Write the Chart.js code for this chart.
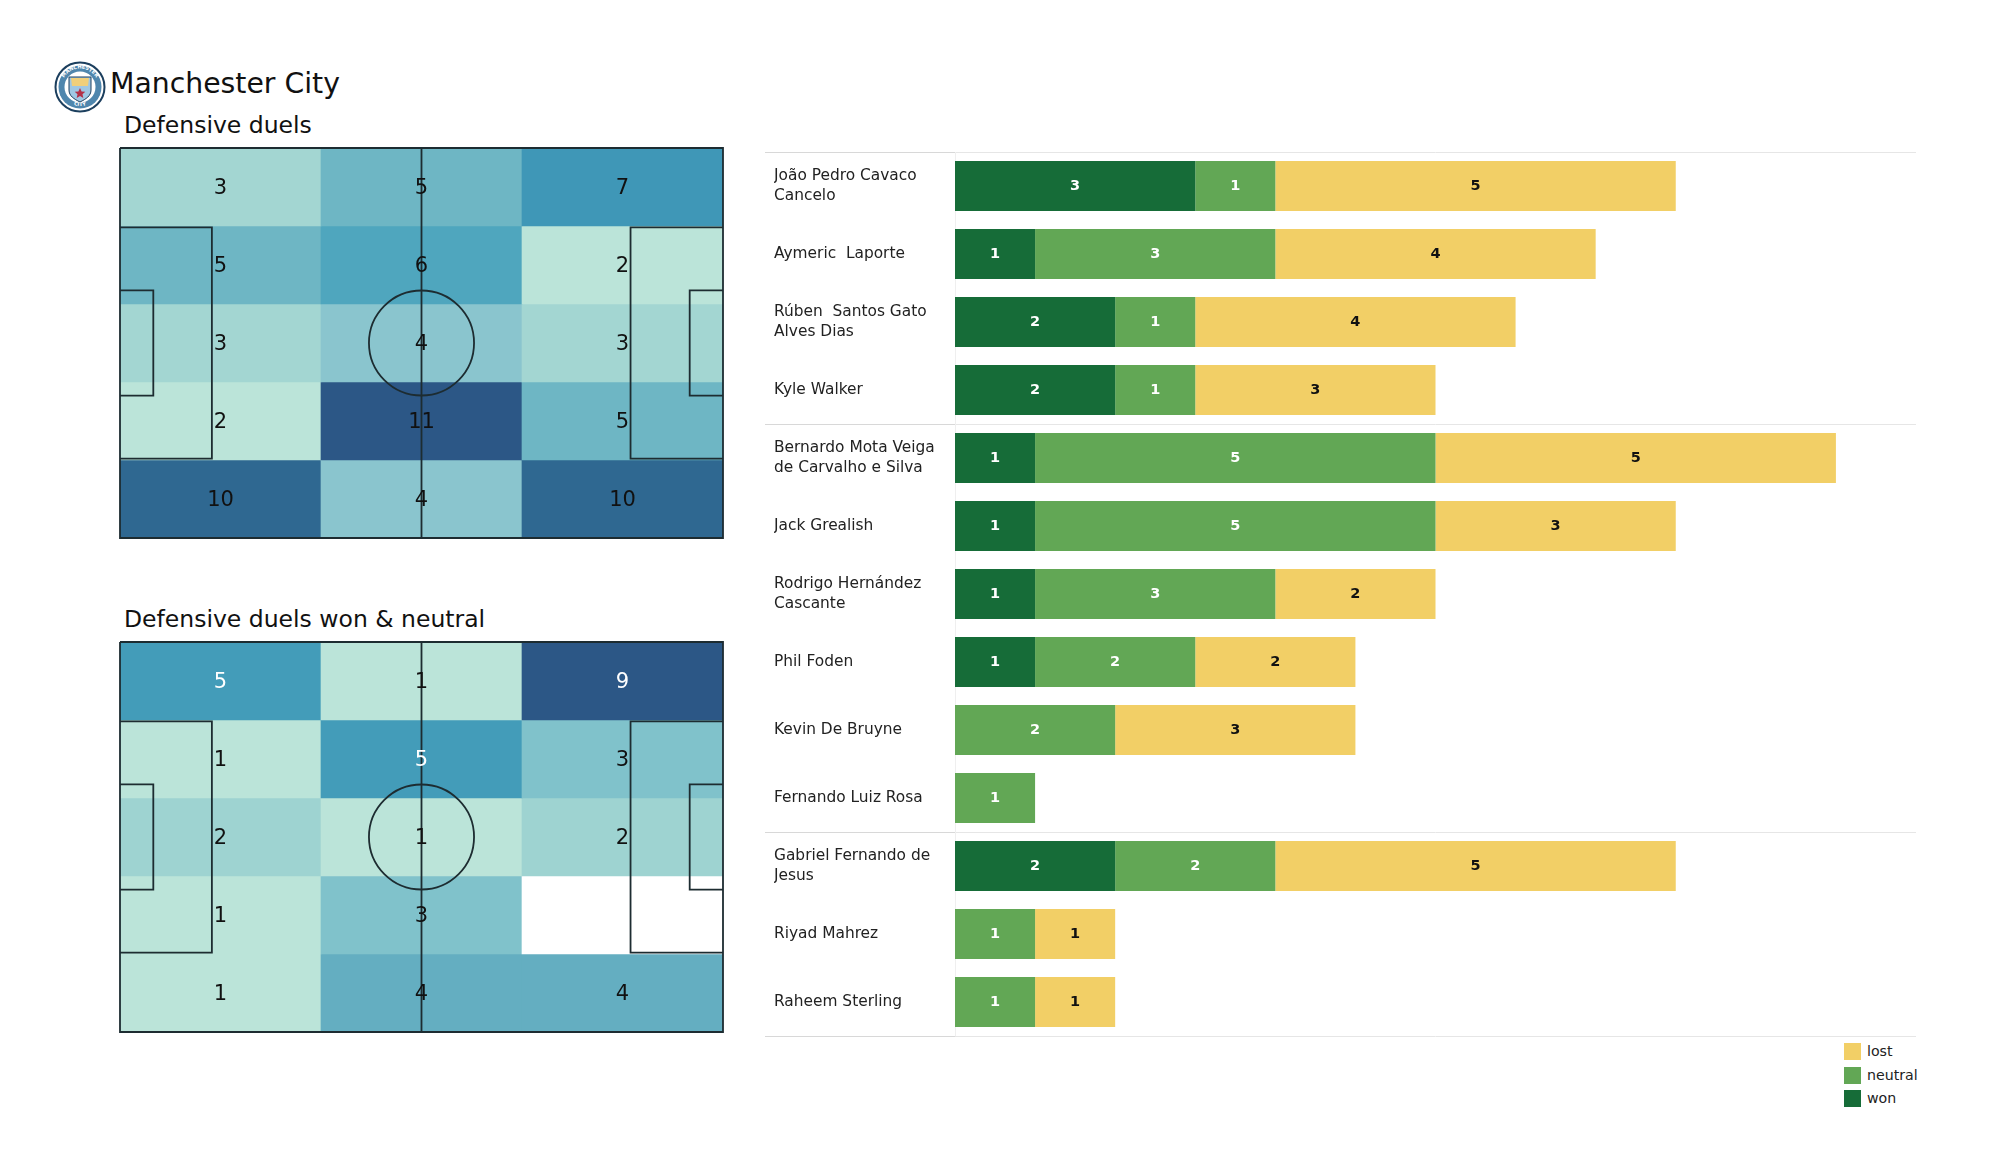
<!DOCTYPE html>
<html>
<head>
<meta charset="utf-8">
<title>Manchester City defensive duels</title>
<script src="https://cdn.jsdelivr.net/npm/chart.js@4"></script>
<style>
  body { margin: 0; background: #fff; width: 2000px; height: 1175px; position: relative; overflow: hidden; font-family: "DejaVu Sans", sans-serif; color: #111; }
  canvas, svg, .txt { position: absolute; }
  .txt { white-space: nowrap; line-height: 1; }
  #legend { position: absolute; left: 1844px; top: 1043px; font-size: 14.2px; color: #222; }
  #legend div { height: 23.5px; display: flex; align-items: flex-start; }
  #legend i { display: block; width: 17px; height: 17px; margin-right: 6px; }
</style>
</head>
<body>
<svg style="left:54px;top:61px" width="52" height="52" viewBox="0 0 52 52">
  <circle cx="26" cy="26" r="24.5" fill="#fff" stroke="#1c3f5e" stroke-width="2"/>
  <circle cx="26" cy="26" r="21.5" fill="#4f86ad"/>
  <circle cx="26" cy="26" r="15.5" fill="#fff"/>
  <defs><path id="ringTop" d="M7.5 26a18.5 18.5 0 0 1 37 0"/><path id="ringBot" d="M11 38a19.5 19.5 0 0 0 30 0"/></defs>
  <text font-size="5" font-weight="bold" fill="#fff" text-anchor="middle"><textPath href="#ringTop" startOffset="50%">MANCHESTER</textPath></text>
  <text font-size="5" font-weight="bold" fill="#fff" text-anchor="middle"><textPath href="#ringBot" startOffset="50%">CITY</textPath></text>
  <path d="M15 16h22v13c0 6-5 9-11 12-6-3-11-6-11-12z" fill="#9fc7e3" stroke="#1c3f5e" stroke-width="1"/>
  <path d="M17 17h18l-1 8H18z" fill="#f0cf7a"/>
  <path d="M26 27l1.6 3.4 3.7.4-2.8 2.5.8 3.7-3.3-1.9-3.3 1.9.8-3.7-2.8-2.5 3.7-.4z" fill="#b33148"/>
</svg>
<div class="txt" style="left:110px;top:70px;font-size:28.3px;">Manchester City</div>
<div class="txt" style="left:124px;top:114px;font-size:23.5px;">Defensive duels</div>
<div class="txt" style="left:124px;top:608px;font-size:23.5px;">Defensive duels won &amp; neutral</div>

<canvas id="heatTop" style="left:115px;top:143px" width="613" height="400"></canvas>
<canvas id="heatBottom" style="left:115px;top:637px" width="613" height="400"></canvas>
<canvas id="bars" style="left:760px;top:146px" width="1165" height="896"></canvas>
<div id="legend"></div>

<script>
// heat maps, top row first
const zoneColumns = ['left', 'centre', 'right'];
const duelRows = [
  [3, 5, 7],
  [5, 6, 2],
  [3, 4, 3],
  [2, 11, 5],
  [10, 4, 10]
];
const wonNeutralRows = [
  [5, 1, 9],
  [1, 5, 3],
  [2, 1, 2],
  [1, 3, 0],
  [1, 4, 4]
];
const duelColors = { 2: '#bbe4d9', 3: '#a3d6d2', 4: '#8ac5ce', 5: '#6eb6c4', 6: '#4fa6be', 7: '#3f97b7', 10: '#2f6891', 11: '#2c5786' };
const wonNeutralColors = { 0: '#ffffff', 1: '#bbe4d9', 2: '#9ed3d1', 3: '#80c2cb', 4: '#64aec1', 5: '#439cb9', 9: '#2c5786' };

// pitch markings in metres
const pitchLength = 105;
const pitchWidth = 68;
const centreCircleRadius = 9.15;
const pitchLines = [
  [[0, 0], [105, 0], [105, 68], [0, 68], [0, 0]],
  [[52.5, 0], [52.5, 68]],
  [[0, 13.84], [16, 13.84], [16, 54.16], [0, 54.16]],
  [[105, 13.84], [88.9, 13.84], [88.9, 54.16], [105, 54.16]],
  [[0, 24.84], [5.8, 24.84], [5.8, 43.16], [0, 43.16]],
  [[105, 24.84], [99.2, 24.84], [99.2, 43.16], [105, 43.16]]
];

// bars
const players = [
  ['João Pedro Cavaco', 'Cancelo'],
  'Aymeric  Laporte',
  ['Rúben  Santos Gato', 'Alves Dias'],
  'Kyle Walker',
  ['Bernardo Mota Veiga', 'de Carvalho e Silva'],
  'Jack Grealish',
  ['Rodrigo Hernández', 'Cascante'],
  'Phil Foden',
  'Kevin De Bruyne',
  'Fernando Luiz Rosa',
  ['Gabriel Fernando de', 'Jesus'],
  'Riyad Mahrez',
  'Raheem Sterling'
];
const won = [3, 1, 2, 2, 1, 1, 1, 1, 0, 0, 2, 0, 0];
const neutral = [1, 3, 1, 1, 5, 5, 3, 2, 2, 1, 2, 1, 1];
const lost = [5, 4, 4, 3, 5, 3, 2, 2, 3, 0, 5, 1, 1];
const groupBreaks = [4, 10];

const lineColor = '#1d2c31';

function heatmap(id, rows, colors, whiteFrom) {
  const cells = rows.map((row, r) => ({
    type: 'bar',
    label: 'row ' + (r + 1),
    data: row.map(() => [r, r + 1]),
    backgroundColor: row.map(v => colors[v]),
    grouped: false,
    barPercentage: 1,
    categoryPercentage: 1,
    xAxisID: 'x',
    yAxisID: 'y',
    order: 2
  }));
  const lines = pitchLines.map(line => ({
    type: 'scatter',
    data: line.map(p => ({ x: p[0], y: p[1] })),
    showLine: true,
    pointRadius: 0,
    borderColor: lineColor,
    borderWidth: 1.8,
    clip: false,
    xAxisID: 'px',
    yAxisID: 'py',
    order: 1
  }));

  new Chart(document.getElementById(id), {
    type: 'bar',
    data: { labels: zoneColumns, datasets: cells.concat(lines) },
    options: {
      responsive: false,
      animation: false,
      layout: { padding: 5 },
      plugins: { legend: { display: false }, tooltip: { enabled: false } },
      scales: {
        x: { display: false },
        y: { display: false, min: 0, max: rows.length, reverse: true },
        px: { display: false, axis: 'x', type: 'linear', offset: false, min: 0, max: pitchLength },
        py: { display: false, axis: 'y', type: 'linear', offset: false, min: 0, max: pitchWidth, reverse: true }
      }
    },
    plugins: [{
      id: 'pitchAndValues',
      afterDatasetsDraw(chart) {
        const { ctx, scales } = chart;
        const cx = scales.px.getPixelForValue(pitchLength / 2);
        const cy = scales.py.getPixelForValue(pitchWidth / 2);
        const rx = scales.px.getPixelForValue(centreCircleRadius) - scales.px.getPixelForValue(0);
        const ry = scales.py.getPixelForValue(centreCircleRadius) - scales.py.getPixelForValue(0);
        ctx.save();
        ctx.strokeStyle = lineColor;
        ctx.lineWidth = 1.8;
        ctx.beginPath();
        ctx.ellipse(cx, cy, rx, ry, 0, 0, Math.PI * 2);
        ctx.stroke();
        ctx.font = '21px "DejaVu Sans"';
        ctx.textAlign = 'center';
        ctx.textBaseline = 'middle';
        rows.forEach((row, r) => {
          const meta = chart.getDatasetMeta(r);
          row.forEach((v, c) => {
            if (!v) return;
            const p = meta.data[c].getCenterPoint();
            ctx.fillStyle = v >= whiteFrom ? '#ffffff' : '#111111';
            ctx.fillText(v, p.x, p.y + 1.5);
          });
        });
        ctx.restore();
      }
    }]
  });
}

heatmap('heatTop', duelRows, duelColors, 99);
heatmap('heatBottom', wonNeutralRows, wonNeutralColors, 5);

const barChart = new Chart(document.getElementById('bars'), {
  type: 'bar',
  data: {
    labels: players,
    datasets: [
      { label: 'won', data: won, backgroundColor: '#166c38', labelColor: '#ffffff' },
      { label: 'neutral', data: neutral, backgroundColor: '#62a755', labelColor: '#ffffff' },
      { label: 'lost', data: lost, backgroundColor: '#f2cf66', labelColor: '#111111' }
    ]
  },
  options: {
    indexAxis: 'y',
    responsive: false,
    animation: false,
    barPercentage: 0.735,
    categoryPercentage: 1,
    layout: { padding: { left: 14, top: 6, bottom: 6, right: 9 } },
    plugins: { legend: { display: false }, tooltip: { enabled: false } },
    scales: {
      x: { display: false, stacked: true, min: 0, max: 12 },
      y: {
        stacked: true,
        afterFit(axis) {
          axis.width = 181;
          axis.paddingTop = 0;
          axis.paddingBottom = 0;
        },
        grid: { display: false },
        border: { display: false },
        ticks: {
          crossAlign: 'far',
          autoSkip: false,
          color: '#222',
          font: { family: '"DejaVu Sans"', size: 15.4, lineHeight: 1.28 }
        }
      }
    }
  },
  plugins: [{
    id: 'rowLines',
    beforeDatasetsDraw(chart) {
      const { ctx, chartArea, scales } = chart;
      const rowY = n => scales.y.getPixelForValue(n - 0.5);
      const ys = [0, ...groupBreaks, players.length].map(n => Math.round(rowY(n)) + 0.5);
      ctx.save();
      ctx.lineWidth = 1;
      ys.forEach(y => {
        ctx.strokeStyle = '#d8d8d8';
        ctx.beginPath();
        ctx.moveTo(5, y);
        ctx.lineTo(chartArea.left, y);
        ctx.stroke();
        ctx.strokeStyle = '#e6e6e6';
        ctx.beginPath();
        ctx.moveTo(chartArea.left, y);
        ctx.lineTo(chartArea.right, y);
        ctx.stroke();
      });
      ctx.strokeStyle = '#efefef';
      ctx.beginPath();
      ctx.moveTo(chartArea.left + 0.5, chartArea.top);
      ctx.lineTo(chartArea.left + 0.5, chartArea.bottom);
      ctx.stroke();
      ctx.restore();
    },
    afterDatasetsDraw(chart) {
      const { ctx } = chart;
      ctx.save();
      ctx.font = 'bold 14.5px "DejaVu Sans"';
      ctx.textAlign = 'center';
      ctx.textBaseline = 'middle';
      chart.data.datasets.forEach((ds, i) => {
        chart.getDatasetMeta(i).data.forEach((bar, j) => {
          if (!ds.data[j]) return;
          const p = bar.getCenterPoint();
          ctx.fillStyle = ds.labelColor;
          ctx.fillText(ds.data[j], p.x, p.y);
        });
      });
      ctx.restore();
    }
  }]
});

// legend, lost on top
const legendBox = document.getElementById('legend');
barChart.data.datasets.slice().reverse().forEach(ds => {
  const row = document.createElement('div');
  const swatch = document.createElement('i');
  swatch.style.background = ds.backgroundColor;
  row.appendChild(swatch);
  row.appendChild(document.createTextNode(ds.label));
  legendBox.appendChild(row);
});
</script>
</body>
</html>
